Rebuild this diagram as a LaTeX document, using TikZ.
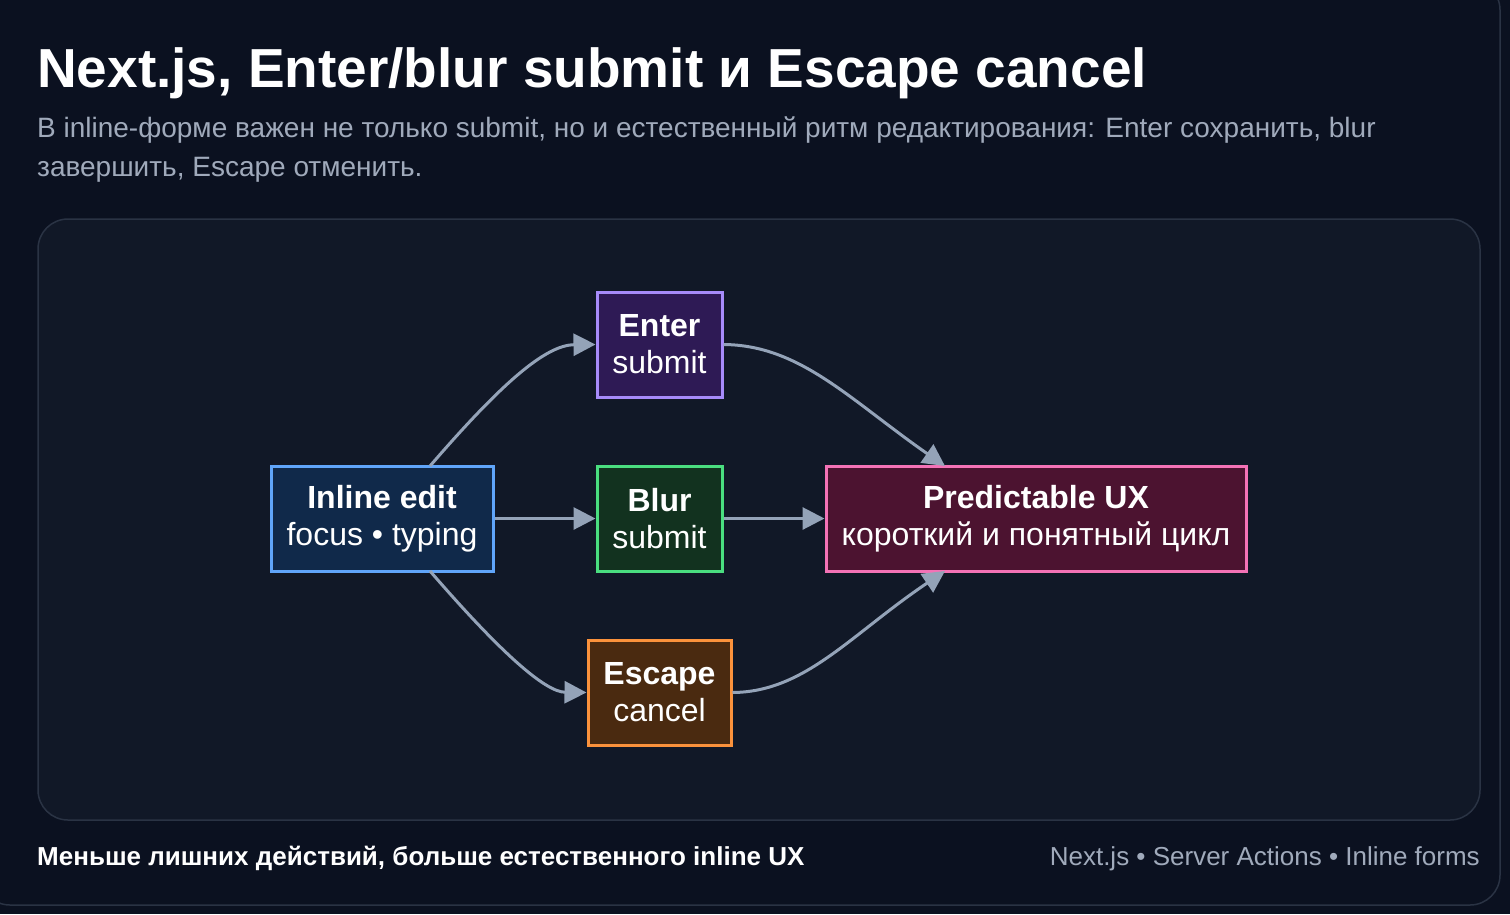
\documentclass[tikz,border=0pt]{standalone}
\usepackage{fontspec}
\setmainfont{Liberation Sans}
\usetikzlibrary{arrows.meta}
\definecolor{bg}{HTML}{0B1120}
\definecolor{panel}{HTML}{111827}
\definecolor{pborder}{HTML}{2A3344}
\definecolor{arr}{HTML}{94A3B8}
\definecolor{sub}{HTML}{A0AABB}
\begin{document}
\begin{tikzpicture}[x=1pt,y=-1pt,
  box/.style={draw, line width=3pt, minimum height=105pt, align=center, text=white, font=\fontsize{32}{37}\selectfont, inner sep=0pt},
  con/.style={draw=arr, line width=3pt, -{Triangle[length=22pt,width=22pt]}}]
\useasboundingbox (0,0) rectangle (1510,914);
\fill[bg] (0,0) rectangle (1510,914);
\begin{scope}
\clip (0,0) rectangle (1510,914);
\draw[pborder, line width=1.5pt, rounded corners=30pt] (-20,-20) rectangle (1500,905);
\end{scope}
\node[anchor=base west, text=white, font=\bfseries\fontsize{55}{60}\selectfont, inner sep=0pt] (title) at (37,87) {Next.js, Enter/blur submit и Escape cancel};
\node[anchor=north west, text=sub, align=left, font=\fontsize{28}{39}\selectfont, inner sep=0pt] (subt) at (37,117) {В inline-форме важен не только submit, но и естественный ритм редактирования: Enter сохранить, blur\\завершить, Escape отменить.};
\draw[pborder, fill=panel, line width=1.5pt, rounded corners=30pt] (38,219) rectangle (1480,820);
\node[box, fill={rgb,255:red,16;green,41;blue,74}, minimum width=222pt, draw={rgb,255:red,96;green,165;blue,250}] (ie) at (382,518.5) {\textbf{Inline edit}\\focus • typing};
\node[box, fill={rgb,255:red,46;green,26;blue,85}, draw={rgb,255:red,167;green,139;blue,250}, minimum width=125pt] (en) at (659.5,344.5) {\textbf{Enter}\\submit};
\node[box, fill={rgb,255:red,18;green,50;blue,31}, draw={rgb,255:red,74;green,222;blue,128}, minimum width=125pt] (bl) at (659.5,518.5) {\textbf{Blur}\\submit};
\node[box, fill={rgb,255:red,74;green,42;blue,16}, draw={rgb,255:red,251;green,146;blue,60}, minimum width=143pt] (es) at (659.5,692.5) {\textbf{Escape}\\cancel};
\node[box, fill={rgb,255:red,76;green,19;blue,48}, draw={rgb,255:red,244;green,114;blue,182}, minimum width=420pt] (px) at (1036,518.5) {\textbf{Predictable UX}\\короткий и понятный цикл};
\coordinate (iet) at (430,466); \coordinate (ieb) at (430,571);
\coordinate (pxt) at (945,466); \coordinate (pxb) at (945,571);
\draw[con] (iet) .. controls (500,385) and (545,345) .. (en.west);
\draw[con] (ie.east) -- (bl.west);
\draw[con] (bl.east) -- (px.west);
\draw[con] (ieb) .. controls (500,652) and (545,692) .. (es.west);
\draw[con] (en.east) .. controls (800,345) and (850,400) .. (pxt);
\draw[con] (es.east) .. controls (805,692) and (850,635) .. (pxb);
\node[anchor=base west, text=white, font=\bfseries\fontsize{26}{28}\selectfont, inner sep=0pt] (f1) at (37,865) {Меньше лишних действий, больше естественного inline UX};
\node[anchor=base east, text=sub, font=\fontsize{26}{28}\selectfont, inner sep=0pt] (f2) at (1480,865) {Next.js • Server Actions • Inline forms};
\end{tikzpicture}
\end{document}
